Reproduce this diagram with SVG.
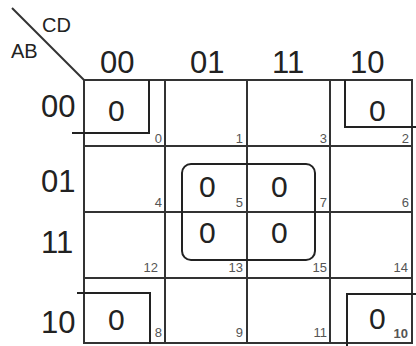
<svg xmlns="http://www.w3.org/2000/svg" width="416" height="346" viewBox="0 0 416 346">
<style>
.ln{stroke:#333;stroke-width:2;fill:none}
.grp{stroke:#222;stroke-width:2;fill:none}
.hd{font-family:"Liberation Sans",Arial,sans-serif;font-size:31px;fill:#222}
.val{font-family:"Liberation Sans",Arial,sans-serif;font-size:30px;fill:#222}
.ax{font-family:"Liberation Sans",Arial,sans-serif;font-size:20px;fill:#222}
.idx{font-family:"Liberation Sans",Arial,sans-serif;font-size:13px;fill:#555;text-anchor:end}
</style>
<rect width="416" height="346" fill="#fff"/>
<g id="grid">
<line class="ln" x1="12" y1="8" x2="84" y2="80"/>
<line class="ln" x1="84" y1="80" x2="413" y2="80"/>
<line class="ln" x1="84" y1="146" x2="413" y2="146"/>
<line class="ln" x1="84" y1="212" x2="413" y2="212"/>
<line class="ln" x1="84" y1="278" x2="413" y2="278"/>
<line class="ln" x1="84" y1="343" x2="413" y2="343"/>
<line class="ln" x1="84" y1="80" x2="84" y2="344"/>
<line class="ln" x1="165" y1="80" x2="165" y2="344"/>
<line class="ln" x1="247" y1="80" x2="247" y2="344"/>
<line class="ln" x1="330" y1="80" x2="330" y2="344"/>
<line class="ln" x1="412" y1="80" x2="412" y2="344"/>
</g>
<g id="labels">
<text class="ax" x="42" y="32">CD</text>
<text class="ax" x="11" y="58">AB</text>
<text class="hd" x="100" y="73">00</text>
<text class="hd" x="190" y="73">01</text>
<text class="hd" x="272" y="73">11</text>
<text class="hd" x="350" y="73">10</text>
<text class="hd" x="41" y="117">00</text>
<text class="hd" x="41" y="192">01</text>
<text class="hd" x="41" y="253">11</text>
<text class="hd" x="41" y="333">10</text>
</g>
<g id="indices">
<text class="idx" x="162" y="143">0</text>
<text class="idx" x="243" y="143">1</text>
<text class="idx" x="327" y="143">3</text>
<text class="idx" x="409" y="143">2</text>
<text class="idx" x="162" y="207">4</text>
<text class="idx" x="243" y="207">5</text>
<text class="idx" x="327" y="207">7</text>
<text class="idx" x="409" y="207">6</text>
<text class="idx" x="158" y="272">12</text>
<text class="idx" x="243" y="272">13</text>
<text class="idx" x="327" y="272">15</text>
<text class="idx" x="408" y="272">14</text>
<text class="idx" x="162" y="337">8</text>
<text class="idx" x="243" y="337">9</text>
<text class="idx" x="327" y="337">11</text>
<text class="idx" x="408" y="338" font-weight="bold">10</text>
</g>
<g id="cells">
<text class="val" x="108" y="121">0</text>
<text class="val" x="369" y="121">0</text>
<text class="val" x="199" y="197">0</text>
<text class="val" x="271" y="197">0</text>
<text class="val" x="199" y="243">0</text>
<text class="val" x="271" y="243">0</text>
<text class="val" x="108" y="330">0</text>
<text class="val" x="369" y="329">0</text>
</g>
<g id="groups">
<polyline class="grp" points="149,80 149,133 72,133"/>
<polyline class="grp" points="345,80 345,127 416,127"/>
<polyline class="grp" points="77,293 150,293 150,344"/>
<polyline class="grp" points="416,294 347,294 347,346"/>
<rect class="grp" x="182" y="164" width="133" height="96" rx="9"/>
</g>
</svg>
